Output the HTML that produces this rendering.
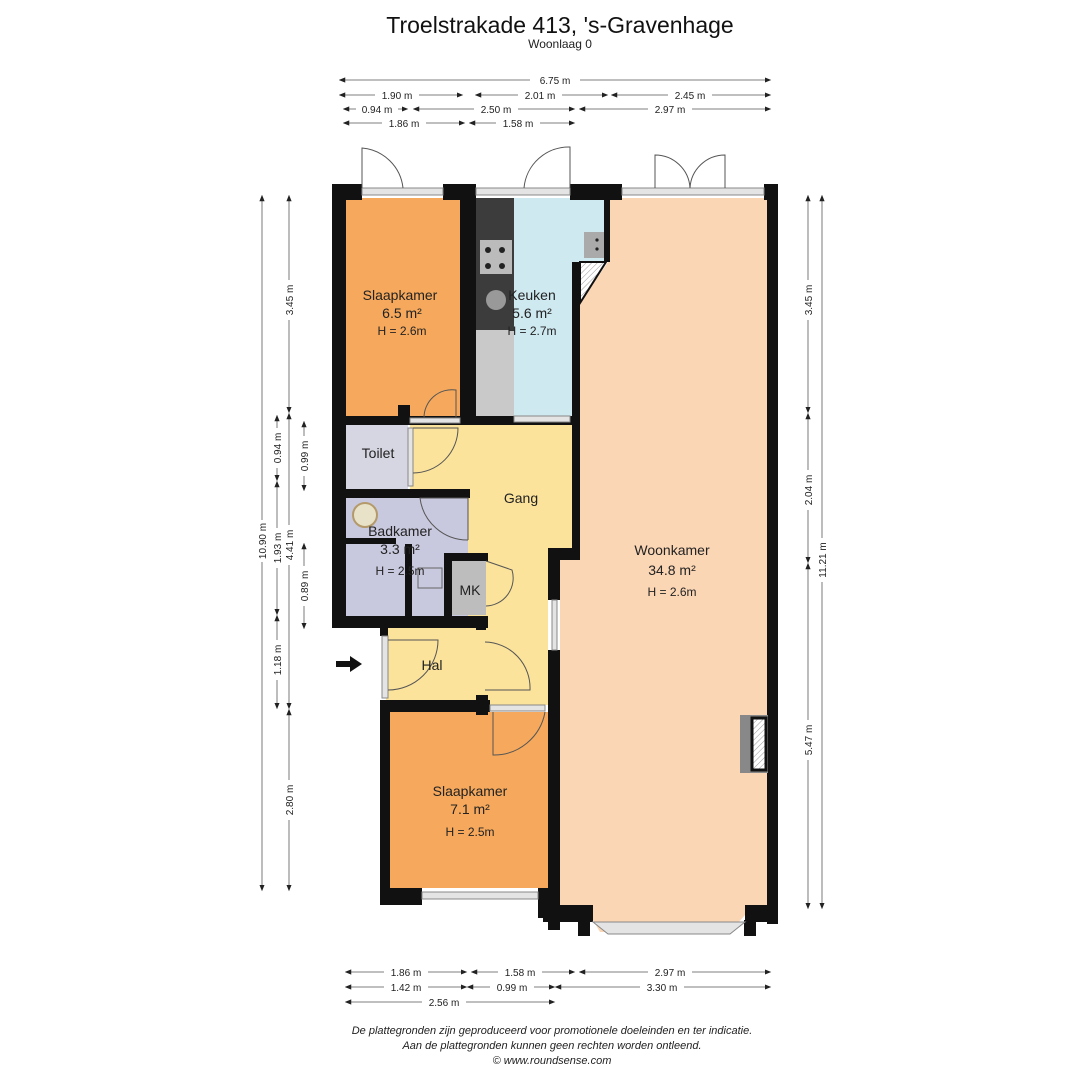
<!DOCTYPE html>
<html><head><meta charset="utf-8"><style>
html,body{margin:0;padding:0;background:#fff}
svg{display:block}
text{font-family:"Liberation Sans",Arial,sans-serif;fill:#222}
.d{font-size:10px;fill:#333}
.dl{stroke:#999;stroke-width:1.3;marker-start:url(#a);marker-end:url(#a)}
.w{fill:#111}
.lbl{font-size:14px;text-anchor:middle}
.sm{font-size:12px;text-anchor:middle}
.door{fill:none;stroke:#555;stroke-width:1}
.win{fill:#e4e4e4;stroke:#888;stroke-width:1}
</style></head><body>
<svg width="1080" height="1080" viewBox="0 0 1080 1080" xmlns="http://www.w3.org/2000/svg">
<defs>
<marker id="a" viewBox="0 0 10 10" refX="5" refY="5" markerWidth="5" markerHeight="5" orient="auto-start-reverse"><path d="M0,1 L10,5 L0,9z" fill="#222"/></marker>
<pattern id="h" width="4" height="4" patternUnits="userSpaceOnUse" patternTransform="rotate(45)"><rect width="4" height="4" fill="#fff"/><line x1="0" y1="0" x2="0" y2="4" stroke="#999" stroke-width="1"/></pattern>
</defs>
<text x="560" y="33" font-size="23" text-anchor="middle" style="fill:#111">Troelstrakade 413, 's-Gravenhage</text>
<text x="560" y="48" font-size="12" text-anchor="middle">Woonlaag 0</text>

<g class="d" text-anchor="middle">
<line class="dl" x1="342" y1="80" x2="768" y2="80"/><rect x="530" y="74" width="50" height="12" fill="#fff"/><text x="555" y="84">6.75 m</text>
<line class="dl" x1="342" y1="95" x2="460" y2="95"/><rect x="375" y="89" width="44" height="12" fill="#fff"/><text x="397" y="99">1.90 m</text>
<line class="dl" x1="478" y1="95" x2="605" y2="95"/><rect x="518" y="89" width="44" height="12" fill="#fff"/><text x="540" y="99">2.01 m</text>
<line class="dl" x1="614" y1="95" x2="768" y2="95"/><rect x="668" y="89" width="44" height="12" fill="#fff"/><text x="690" y="99">2.45 m</text>
<line class="dl" x1="346" y1="109" x2="405" y2="109"/><rect x="356" y="103" width="42" height="12" fill="#fff"/><text x="377" y="113">0.94 m</text>
<line class="dl" x1="416" y1="109" x2="572" y2="109"/><rect x="474" y="103" width="44" height="12" fill="#fff"/><text x="496" y="113">2.50 m</text>
<line class="dl" x1="582" y1="109" x2="768" y2="109"/><rect x="648" y="103" width="44" height="12" fill="#fff"/><text x="670" y="113">2.97 m</text>
<line class="dl" x1="346" y1="123" x2="462" y2="123"/><rect x="382" y="117" width="44" height="12" fill="#fff"/><text x="404" y="127">1.86 m</text>
<line class="dl" x1="472" y1="123" x2="572" y2="123"/><rect x="496" y="117" width="44" height="12" fill="#fff"/><text x="518" y="127">1.58 m</text>
</g>
<g class="d" text-anchor="middle">
<line class="dl" x1="348" y1="972" x2="464" y2="972"/><rect x="384" y="966" width="44" height="12" fill="#fff"/><text x="406" y="976">1.86 m</text>
<line class="dl" x1="474" y1="972" x2="572" y2="972"/><rect x="498" y="966" width="44" height="12" fill="#fff"/><text x="520" y="976">1.58 m</text>
<line class="dl" x1="582" y1="972" x2="768" y2="972"/><rect x="648" y="966" width="44" height="12" fill="#fff"/><text x="670" y="976">2.97 m</text>
<line class="dl" x1="348" y1="987" x2="464" y2="987"/><rect x="384" y="981" width="44" height="12" fill="#fff"/><text x="406" y="991">1.42 m</text>
<line class="dl" x1="470" y1="987" x2="552" y2="987"/><rect x="490" y="981" width="44" height="12" fill="#fff"/><text x="512" y="991">0.99 m</text>
<line class="dl" x1="558" y1="987" x2="768" y2="987"/><rect x="640" y="981" width="44" height="12" fill="#fff"/><text x="662" y="991">3.30 m</text>
<line class="dl" x1="348" y1="1002" x2="552" y2="1002"/><rect x="422" y="996" width="44" height="12" fill="#fff"/><text x="444" y="1006">2.56 m</text>
</g>
<g class="d" text-anchor="middle">
<line class="dl" x1="262" y1="198" x2="262" y2="888"/><rect x="256" y="520" width="12" height="42" fill="#fff"/><text transform="translate(266,541) rotate(-90)">10.90 m</text>
<line class="dl" x1="277" y1="418" x2="277" y2="478"/><rect x="271" y="428" width="12" height="40" fill="#fff"/><text transform="translate(281,448) rotate(-90)">0.94 m</text>
<line class="dl" x1="277" y1="484" x2="277" y2="612"/><rect x="271" y="528" width="12" height="40" fill="#fff"/><text transform="translate(281,548) rotate(-90)">1.93 m</text>
<line class="dl" x1="277" y1="618" x2="277" y2="706"/><rect x="271" y="640" width="12" height="40" fill="#fff"/><text transform="translate(281,660) rotate(-90)">1.18 m</text>
<line class="dl" x1="289" y1="198" x2="289" y2="410"/><rect x="283" y="280" width="12" height="40" fill="#fff"/><text transform="translate(293,300) rotate(-90)">3.45 m</text>
<line class="dl" x1="289" y1="416" x2="289" y2="706"/><rect x="283" y="525" width="12" height="40" fill="#fff"/><text transform="translate(293,545) rotate(-90)">4.41 m</text>
<line class="dl" x1="289" y1="712" x2="289" y2="888"/><rect x="283" y="780" width="12" height="40" fill="#fff"/><text transform="translate(293,800) rotate(-90)">2.80 m</text>
<line class="dl" x1="304" y1="424" x2="304" y2="488"/><rect x="298" y="436" width="12" height="40" fill="#fff"/><text transform="translate(308,456) rotate(-90)">0.99 m</text>
<line class="dl" x1="304" y1="546" x2="304" y2="626"/><rect x="298" y="566" width="12" height="40" fill="#fff"/><text transform="translate(308,586) rotate(-90)">0.89 m</text>
</g>
<g class="d" text-anchor="middle">
<line class="dl" x1="808" y1="198" x2="808" y2="410"/><rect x="802" y="280" width="12" height="40" fill="#fff"/><text transform="translate(812,300) rotate(-90)">3.45 m</text>
<line class="dl" x1="808" y1="416" x2="808" y2="560"/><rect x="802" y="470" width="12" height="40" fill="#fff"/><text transform="translate(812,490) rotate(-90)">2.04 m</text>
<line class="dl" x1="808" y1="566" x2="808" y2="906"/><rect x="802" y="720" width="12" height="40" fill="#fff"/><text transform="translate(812,740) rotate(-90)">5.47 m</text>
<line class="dl" x1="822" y1="198" x2="822" y2="906"/><rect x="816" y="538" width="12" height="44" fill="#fff"/><text transform="translate(826,560) rotate(-90)">11.21 m</text>
</g>

<!-- room fills -->
<polygon points="608,198 767,198 767,907 745,915 730,932 600,932 590,915 560,907 560,555 580,555 580,303 608,262" fill="#fbd6b5"/>
<rect x="344" y="198" width="117" height="220" fill="#f6a95c"/>
<polygon points="476,198 606,198 606,262 580,262 580,416 476,416" fill="#cfe9f1"/>
<rect x="476" y="198" width="38" height="218" fill="#3c3c3c"/>
<rect x="476" y="330" width="38" height="86" fill="#c9c9c9"/>
<rect x="480" y="240" width="32" height="34" fill="#bbb"/>
<circle cx="488" cy="250" r="3" fill="#222"/><circle cx="502" cy="250" r="3" fill="#222"/><circle cx="488" cy="266" r="3" fill="#222"/><circle cx="502" cy="266" r="3" fill="#222"/>
<circle cx="496" cy="300" r="10" fill="#999"/>
<rect x="584" y="232" width="20" height="26" fill="#aaa"/>
<circle cx="597" cy="240" r="1.6" fill="#222"/><circle cx="597" cy="249" r="1.6" fill="#222"/>
<polygon points="580,262 606,262 580,303" fill="url(#h)" stroke="#111" stroke-width="2"/>
<polygon points="410,425 572,425 572,555 548,555 548,705 478,705 478,616 468,616 468,498 410,498" fill="#fbe39c"/>
<rect x="346" y="425" width="62" height="64" fill="#d6d6e2"/>
<rect x="346" y="498" width="122" height="118" fill="#c8c8de"/>
<rect x="452" y="555" width="34" height="60" fill="#bdbdbd"/>
<rect x="386" y="628" width="92" height="72" fill="#fbe39c"/>
<rect x="390" y="712" width="160" height="176" fill="#f6a95c"/>
<circle cx="365" cy="515" r="12" fill="#e8e2c8" stroke="#b49a6a" stroke-width="2"/>

<g class="w">
<rect x="332" y="184" width="14" height="442"/>
<rect x="332" y="184" width="30" height="16"/>
<rect x="443" y="184" width="33" height="16"/>
<rect x="460" y="184" width="16" height="234"/>
<rect x="570" y="184" width="52" height="16"/>
<rect x="764" y="184" width="14" height="16"/>
<rect x="767" y="184" width="11" height="740"/>
<rect x="604" y="198" width="6" height="64"/>
<rect x="572" y="262" width="8" height="293"/>
<rect x="344" y="416" width="230" height="9"/>
<rect x="398" y="405" width="12" height="12"/>
<rect x="344" y="489" width="126" height="9"/>
<rect x="346" y="538" width="50" height="6"/>
<rect x="405" y="544" width="7" height="72"/>
<rect x="444" y="553" width="44" height="8"/>
<rect x="444" y="553" width="8" height="70"/>
<rect x="548" y="548" width="32" height="12"/>
<rect x="548" y="555" width="12" height="45"/>
<rect x="548" y="650" width="12" height="280"/>
<rect x="332" y="616" width="156" height="12"/>
<rect x="380" y="628" width="8" height="8"/>
<rect x="476" y="616" width="10" height="14"/>
<rect x="476" y="695" width="12" height="20"/>
<rect x="380" y="700" width="110" height="12"/>
<rect x="380" y="700" width="10" height="205"/>
<rect x="380" y="888" width="42" height="17"/>
<rect x="538" y="888" width="22" height="30"/>
<rect x="543" y="905" width="50" height="17"/>
<rect x="745" y="905" width="33" height="17"/>
<rect x="578" y="920" width="12" height="16"/>
<rect x="744" y="920" width="12" height="16"/>
</g>
<rect class="win" x="362" y="188" width="81" height="7"/>
<rect class="win" x="476" y="188" width="94" height="7"/>
<rect class="win" x="622" y="188" width="142" height="7"/>
<rect class="win" x="422" y="892" width="116" height="7"/>
<polygon class="win" points="593,922 745,922 730,934 608,934"/>
<rect class="win" x="382" y="636" width="6" height="62"/>
<rect class="win" x="552" y="600" width="5" height="50"/>
<rect class="win" x="410" y="418" width="50" height="5"/>
<rect class="win" x="514" y="416" width="56" height="6"/>
<rect class="win" x="408" y="428" width="5" height="58"/>
<rect class="win" x="490" y="705" width="55" height="6"/>
<rect x="740" y="715" width="28" height="58" fill="#888"/>
<rect x="752" y="718" width="14" height="52" fill="url(#h)" stroke="#111" stroke-width="3"/>
<path class="door" d="M362,188 V148 A45,45 0 0 1 403,188"/>
<path class="door" d="M570,188 V147 A45,45 0 0 0 524,188"/>
<path class="door" d="M655,188 V155 A35,35 0 0 1 690,188 A35,35 0 0 1 725,155 V188"/>
<path class="door" d="M456,418 V390 A28,28 0 0 0 424,418"/>
<path class="door" d="M413,428 H458 A45,45 0 0 1 413,473"/>
<path class="door" d="M468,540 V498 H420 A48,48 0 0 0 468,540"/>
<path class="door" d="M486,561 L512,570 A28,28 0 0 1 486,606"/>
<path class="door" d="M388,640 H438 A50,50 0 0 1 388,690"/>
<path class="door" d="M485,642 A46,46 0 0 1 530,690 H485"/>
<path class="door" d="M545,712 A52,52 0 0 1 493,755 V712"/>
<polygon points="336,661 350,661 350,656 362,664 350,672 350,667 336,667" fill="#111"/>
<rect x="418" y="568" width="24" height="20" fill="none" stroke="#666" stroke-width="1"/>

<text class="lbl" x="400" y="300">Slaapkamer</text>
<text class="lbl" x="402" y="318">6.5 m²</text>
<text class="sm" x="402" y="335">H = 2.6m</text>
<text class="lbl" x="532" y="300">Keuken</text>
<text class="lbl" x="532" y="318">5.6 m²</text>
<text class="sm" x="532" y="335">H = 2.7m</text>
<text class="lbl" x="378" y="458">Toilet</text>
<text class="lbl" x="521" y="503">Gang</text>
<text class="lbl" x="400" y="536">Badkamer</text>
<text class="lbl" x="400" y="554">3.3 m²</text>
<text class="sm" x="400" y="575">H = 2.5m</text>
<text class="lbl" x="470" y="595">MK</text>
<text class="lbl" x="432" y="670">Hal</text>
<text class="lbl" x="470" y="796">Slaapkamer</text>
<text class="lbl" x="470" y="814">7.1 m²</text>
<text class="sm" x="470" y="836">H = 2.5m</text>
<text class="lbl" x="672" y="555">Woonkamer</text>
<text class="lbl" x="672" y="575">34.8 m²</text>
<text class="sm" x="672" y="596">H = 2.6m</text>

<text x="552" y="1034" font-size="11" font-style="italic" text-anchor="middle">De plattegronden zijn geproduceerd voor promotionele doeleinden en ter indicatie.</text>
<text x="552" y="1049" font-size="11" font-style="italic" text-anchor="middle">Aan de plattegronden kunnen geen rechten worden ontleend.</text>
<text x="552" y="1064" font-size="11" font-style="italic" text-anchor="middle">© www.roundsense.com</text>
</svg>
</body></html>
